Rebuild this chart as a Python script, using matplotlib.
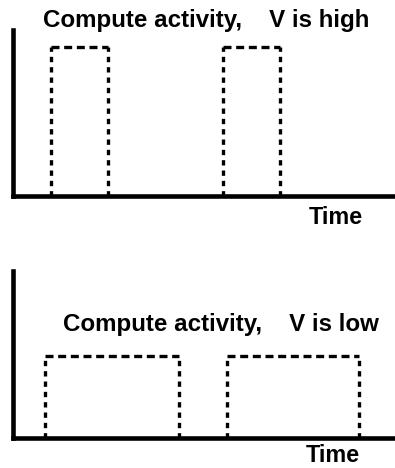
import matplotlib
matplotlib.use("Agg")
import matplotlib.pyplot as plt

# Data (time units, relative activity)
high_starts = [1.0, 5.5]
high_ends = [2.5, 7.0]
high_level = 0.9
low_starts = [0.85, 5.6]
low_ends = [4.35, 9.05]
low_level = 0.49
title_high = "Compute activity,    V is high"
title_low = "Compute activity,    V is low"
xlabel = "Time"

W, H = 395, 468
fig = plt.figure(figsize=(W / 100, H / 100), dpi=100)
plt.rcParams['font.family'] = ['Liberation Sans', 'DejaVu Sans']


def make_axes(left_px, bottom_px, top_px):
    ax = fig.add_axes([left_px / W, 1 - bottom_px / H, (W - left_px) / W,
                       (bottom_px - top_px) / H])
    ax.set_xlim(0, 10)
    ax.set_ylim(0, 1)
    for s in ['top', 'right']:
        ax.spines[s].set_visible(False)
    for s in ['left', 'bottom']:
        ax.spines[s].set_linewidth(3.3)
        ax.spines[s].set_capstyle('projecting')
    ax.set_xticks([])
    ax.set_yticks([])
    ax.patch.set_alpha(0)
    return ax


def draw_pulses(ax, starts, ends, level):
    for s, e in zip(starts, ends):
        ax.plot([s, s], [0, level], color='black', lw=2.4,
                linestyle=(0, (1.6, 1.5)), dash_capstyle='butt', clip_on=False)
        ax.plot([e, e], [0, level], color='black', lw=2.4,
                linestyle=(0, (1.6, 1.5)), dash_capstyle='butt', clip_on=False)
        ax.plot([s, e], [level, level], color='black', lw=2.4,
                linestyle=(0, (2.4, 1.4)), dash_capstyle='butt', clip_on=False)


ax1 = make_axes(12.5, 195.5, 30)
draw_pulses(ax1, high_starts, high_ends, high_level)
ax2 = make_axes(13, 438, 271)
draw_pulses(ax2, low_starts, low_ends, low_level)

fs_title = 17.4
fs_label = 16.8
fig.text(206 / W, 1 - 20 / H, title_high, ha='center', va='center',
         fontsize=fs_title, fontweight='bold')
fig.text(221 / W, 1 - 324 / H, title_low, ha='center', va='center',
         fontsize=fs_title, fontweight='bold')
fig.text(336 / W, 1 - 217 / H, xlabel, ha='center', va='center',
         fontsize=fs_label, fontweight='bold')
fig.text(333 / W, 1 - 456 / H, xlabel, ha='center', va='center',
         fontsize=fs_label, fontweight='bold')

fig.savefig("out.png", dpi=100)
